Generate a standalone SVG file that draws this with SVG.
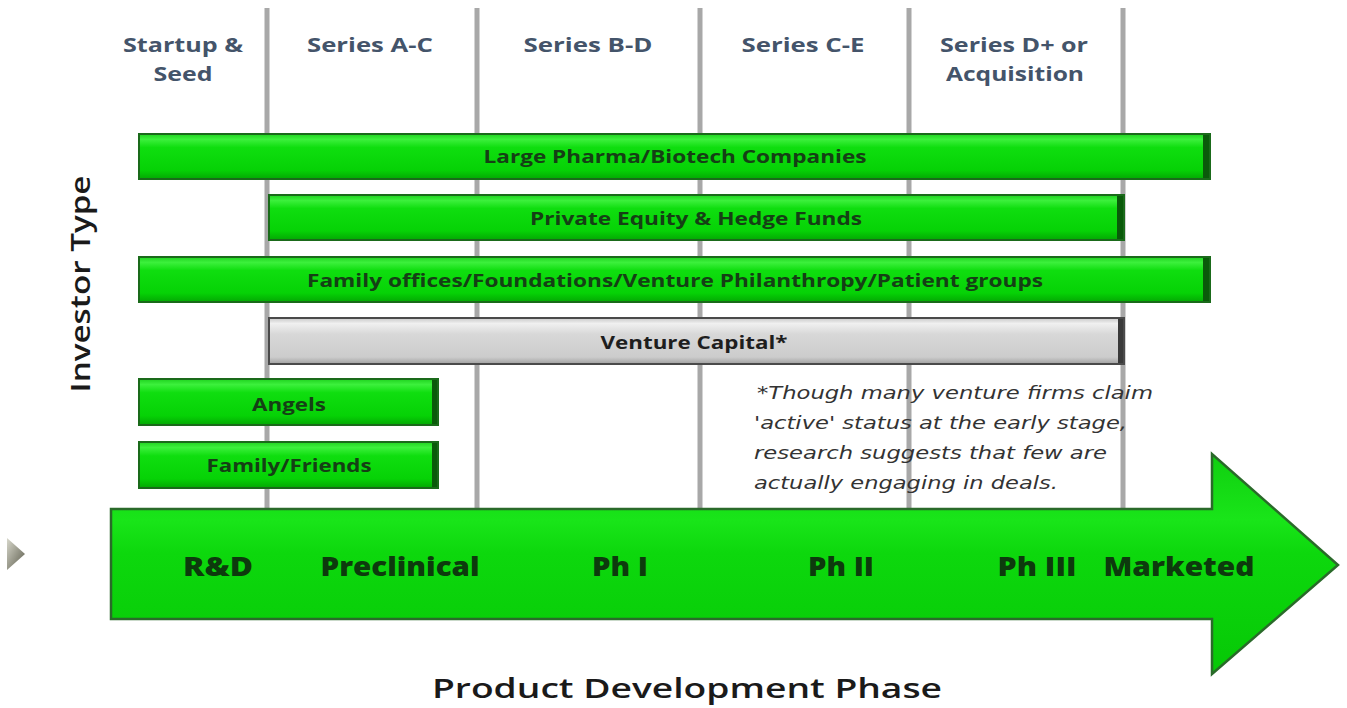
<svg xmlns="http://www.w3.org/2000/svg" width="1347" height="708" viewBox="0 0 1347 708">
<defs>
<linearGradient id="gGreen" x1="0" y1="0" x2="0" y2="1">
<stop offset="0" stop-color="#1fd21f"/>
<stop offset="0.12" stop-color="#3cf03c"/>
<stop offset="0.3" stop-color="#0fde0f"/>
<stop offset="0.8" stop-color="#06d206"/>
<stop offset="1" stop-color="#03a803"/>
</linearGradient>
<linearGradient id="gGray" x1="0" y1="0" x2="0" y2="1">
<stop offset="0" stop-color="#c8c8c8"/>
<stop offset="0.12" stop-color="#f0f0f0"/>
<stop offset="0.35" stop-color="#d8d8d8"/>
<stop offset="0.85" stop-color="#cccccc"/>
<stop offset="1" stop-color="#a0a0a0"/>
</linearGradient>
<linearGradient id="gArrow" x1="0" y1="0" x2="0" y2="1">
<stop offset="0" stop-color="#10cf10"/>
<stop offset="0.3" stop-color="#19e519"/>
<stop offset="0.45" stop-color="#0dd80d"/>
<stop offset="1" stop-color="#06c806"/>
</linearGradient>
<linearGradient id="gTri" x1="0" y1="0" x2="1" y2="1">
<stop offset="0" stop-color="#d8d8cc"/>
<stop offset="1" stop-color="#5a5a4a"/>
</linearGradient>
</defs>
<style>
.vline{stroke:#a8a8a8;stroke-width:5;fill:none}
.bar{fill:url(#gGreen);stroke:#1a6a1a;stroke-width:2}
.edge{fill:#0a5a0a}
.gbar{fill:url(#gGray);stroke:#4a4a4a;stroke-width:2}
.hdr{font-family:"Open Sans","Liberation Sans",sans-serif;font-weight:bold;font-size:19px;fill:#44546a;text-anchor:middle}
.lbl{font-family:"Open Sans","Liberation Sans",sans-serif;font-weight:bold;font-size:17px;fill:#153f15;text-anchor:middle}
.alb{font-family:"Open Sans","Liberation Sans",sans-serif;font-weight:800;font-size:26px;fill:#0d3a0d;text-anchor:middle}
.axis{font-family:"Open Sans","Liberation Sans",sans-serif;font-weight:600;font-size:27px;fill:#1a1a1a;text-anchor:middle}
.note{font-family:"DejaVu Sans","Liberation Sans",sans-serif;font-style:italic;font-size:17.5px;fill:#333333}
</style>
<rect width="1347" height="708" fill="#ffffff"/>
<g id="gridlines">
<line class="vline" x1="267" y1="8" x2="267" y2="510"/>
<line class="vline" x1="477" y1="8" x2="477" y2="510"/>
<line class="vline" x1="700" y1="8" x2="700" y2="510"/>
<line class="vline" x1="909" y1="8" x2="909" y2="510"/>
<line class="vline" x1="1123" y1="8" x2="1123" y2="510"/>
</g>
<g id="headers">
<text class="hdr" x="183" y="52" textLength="120" lengthAdjust="spacingAndGlyphs">Startup &amp;</text>
<text class="hdr" x="183" y="81" textLength="59" lengthAdjust="spacingAndGlyphs">Seed</text>
<text class="hdr" x="370" y="52" textLength="126" lengthAdjust="spacingAndGlyphs">Series A-C</text>
<text class="hdr" x="588" y="52" textLength="129" lengthAdjust="spacingAndGlyphs">Series B-D</text>
<text class="hdr" x="803" y="52" textLength="123" lengthAdjust="spacingAndGlyphs">Series C-E</text>
<text class="hdr" x="1014" y="52" textLength="148" lengthAdjust="spacingAndGlyphs">Series D+ or</text>
<text class="hdr" x="1015" y="81" textLength="138" lengthAdjust="spacingAndGlyphs">Acquisition</text>
</g>
<g id="pharma">
<rect class="bar" x="139" y="134" width="1071" height="45"/>
<rect class="edge" x="1203" y="135" width="6" height="43"/>
<text class="lbl" x="675" y="163" textLength="383" lengthAdjust="spacingAndGlyphs">Large Pharma/Biotech Companies</text>
</g>
<g id="privateequity">
<rect class="bar" x="269" y="195" width="855" height="45"/>
<rect class="edge" x="1117" y="196" width="6" height="43"/>
<text class="lbl" x="696" y="225" textLength="332" lengthAdjust="spacingAndGlyphs">Private Equity &amp; Hedge Funds</text>
</g>
<g id="familyoffices">
<rect class="bar" x="139" y="257" width="1071" height="45"/>
<rect class="edge" x="1203" y="258" width="6" height="43"/>
<text class="lbl" x="675" y="287" textLength="736" lengthAdjust="spacingAndGlyphs">Family offices/Foundations/Venture Philanthropy/Patient groups</text>
</g>
<g id="venturecapital">
<rect class="gbar" x="269" y="318" width="855" height="46"/>
<rect x="1118" y="319" width="5" height="44" fill="#3a3a3a"/>
<text class="lbl" x="694" y="349" textLength="187" lengthAdjust="spacingAndGlyphs" style="fill:#1e1e1e">Venture Capital*</text>
</g>
<g id="angels">
<rect class="bar" x="139" y="379" width="299" height="46"/>
<rect class="edge" x="432" y="380" width="5" height="44"/>
<text class="lbl" x="289" y="411" textLength="74" lengthAdjust="spacingAndGlyphs">Angels</text>
</g>
<g id="familyfriends">
<rect class="bar" x="139" y="442" width="299" height="46"/>
<rect class="edge" x="432" y="443" width="5" height="44"/>
<text class="lbl" x="289" y="472" textLength="165" lengthAdjust="spacingAndGlyphs">Family/Friends</text>
</g>
<g id="footnote">
<text class="note" x="757" y="399" textLength="396" lengthAdjust="spacingAndGlyphs">*Though many venture firms claim</text>
<text class="note" x="754" y="429" textLength="373" lengthAdjust="spacingAndGlyphs">'active' status at the early stage,</text>
<text class="note" x="754" y="459" textLength="353" lengthAdjust="spacingAndGlyphs">research suggests that few are</text>
<text class="note" x="754" y="489" textLength="304" lengthAdjust="spacingAndGlyphs">actually engaging in deals.</text>
</g>
<g id="investortype">
<text class="axis" transform="translate(90,284) rotate(-90)" x="0" y="0" textLength="217" lengthAdjust="spacingAndGlyphs">Investor Type</text>
</g>
<g id="phasearrow">
<path d="M111,509 L1212,509 L1212,454 L1338,565 L1212,674 L1212,619 L111,619 Z" fill="url(#gArrow)" stroke="#2a6a2a" stroke-width="2.5"/>
<text class="alb" x="218" y="576" textLength="70" lengthAdjust="spacingAndGlyphs">R&amp;D</text>
<text class="alb" x="400" y="576" textLength="159" lengthAdjust="spacingAndGlyphs">Preclinical</text>
<text class="alb" x="620" y="576" textLength="56" lengthAdjust="spacingAndGlyphs">Ph I</text>
<text class="alb" x="841" y="576" textLength="66" lengthAdjust="spacingAndGlyphs">Ph II</text>
<text class="alb" x="1037" y="576" textLength="79" lengthAdjust="spacingAndGlyphs">Ph III</text>
<text class="alb" x="1179" y="576" textLength="151" lengthAdjust="spacingAndGlyphs">Marketed</text>
</g>
<g id="marker">
<path d="M7,538 L25,554 L7,570 Z" fill="url(#gTri)"/>
</g>
<g id="xaxis">
<text class="axis" x="687" y="698" textLength="510" lengthAdjust="spacingAndGlyphs">Product Development Phase</text>
</g>
</svg>
